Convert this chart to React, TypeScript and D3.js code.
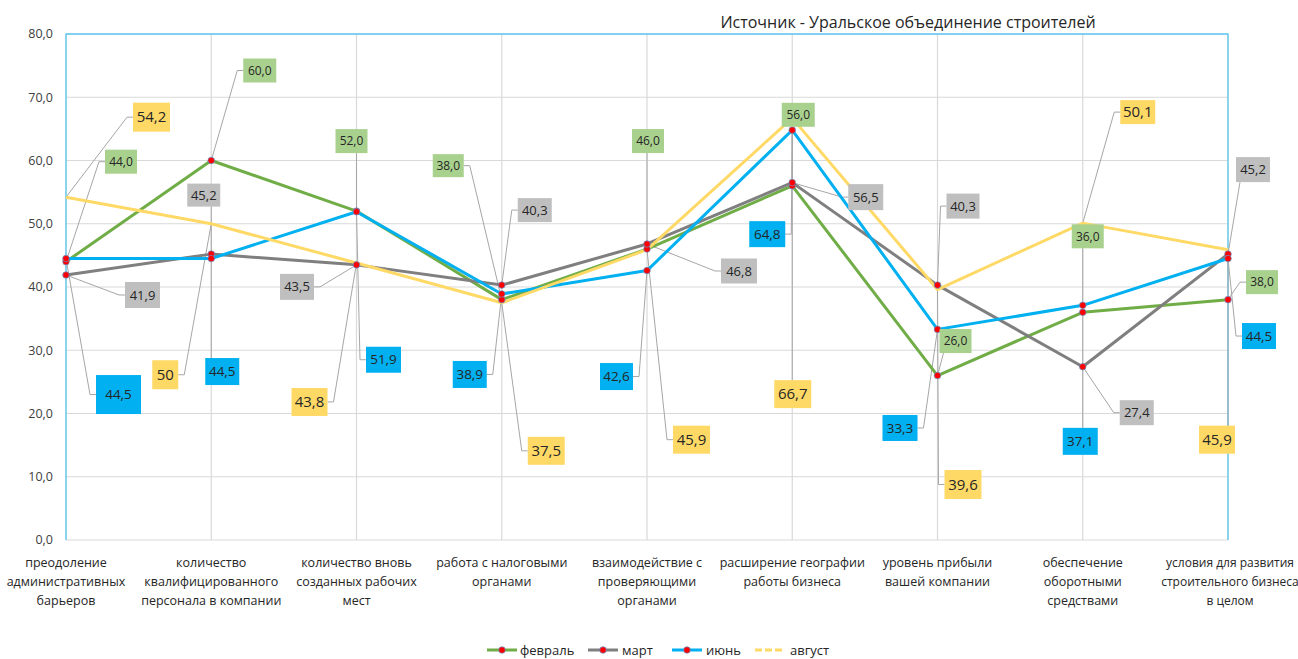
import React from "react";
import * as d3 from "d3";

const categories: string[][] = [
  ["преодоление", "административных", "барьеров"],
  ["количество", "квалифицированного", "персонала в компании"],
  ["количество вновь", "созданных рабочих", "мест"],
  ["работа с налоговыми", "органами"],
  ["взаимодействие с", "проверяющими", "органами"],
  ["расширение географии", "работы бизнеса"],
  ["уровень прибыли", "вашей компании"],
  ["обеспечение", "оборотными", "средствами"],
  ["условия для развития", "строительного бизнеса", "в целом"],
];

const february = [44.0, 60.0, 52.0, 38.0, 46.0, 56.0, 26.0, 36.0, 38.0];
const march = [41.9, 45.2, 43.5, 40.3, 46.8, 56.5, 40.3, 27.4, 45.2];
const june = [44.5, 44.5, 51.9, 38.9, 42.6, 64.8, 33.3, 37.1, 44.5];
const august = [54.2, 50.0, 43.8, 37.5, 45.9, 66.7, 39.6, 50.1, 45.9];

const seriesNames = ["февраль", "март", "июнь", "август"];
const yTicks = [0, 10, 20, 30, 40, 50, 60, 70, 80];
const title = "Источник - Уральское объединение строителей";
// labels shown without decimals: [seriesIndex, categoryIndex]
const plainLabels = [[3, 1]];

// ---- styling / layout (not data) ----
const W = 1298, H = 659;
const plot = { left: 66, right: 1228, top: 34, bottom: 540 };
const lineColors = ["#70AD47", "#7F7F7F", "#00B0F0", "#FFD966"];
const boxColors = ["#A9D18E", "#BFBFBF", "#00B0F0", "#FFD966"];
const labelFont = [12, 13, 13.5, 15];
const FONT = "'Open Sans', sans-serif";

// label layout per series per category: [dx, dy, w, h, attachSide]
type LL = [number, number, number, number, string];
const labelLayout: LL[][] = [
  [
    [55, -100, 32, 24, "l"], [48.5, -90, 33, 24, "l"], [-5, -70, 32, 24, "b"],
    [-53.5, -134, 31, 23, "r"], [1, -108, 32, 24, "b"], [6, -71, 33, 24, "b"],
    [18, -34.5, 32, 24, "b"], [5, -76, 32, 24, "b"], [34, -17.5, 32, 24, "l"],
  ],
  [
    [76.5, 20, 35, 26, "l"], [-7.5, -59, 33, 23, "b"], [-59.5, 22, 34, 26, "r"],
    [33, -75, 34, 24, "l"], [92, 27, 36, 25, "l"], [73.5, 14.5, 35, 26, "l"],
    [25.5, -79, 33, 25, "l"], [54, 46, 34, 25, "l"], [25, -84.5, 34, 25, "b"],
  ],
  [
    [52.5, 136, 45, 39, "l"], [11, 113, 34, 27, "t"], [27, 148, 35, 26, "l"],
    [-32, 80.5, 34, 27, "r"], [-30.5, 106, 33, 27, "r"], [-25, 104, 36, 26, "r"],
    [-37.5, 98.6, 35, 26, "r"], [-2.5, 136, 35, 27, "t"], [31, 77.5, 34, 26, "l"],
  ],
  [
    [85.5, -80, 37, 29, "l"], [-46, 151, 26, 29, "r"], [-47, 139, 36, 28, "r"],
    [44.5, 148, 37, 28, "l"], [44.5, 190, 37, 28, "l"], [0.5, 276, 37, 28, "t"],
    [25.5, 195, 37, 29, "l"], [55, -111, 35, 24, "l"], [-11, 190, 36, 28, "t"],
  ],
];

const ru = d3.formatLocale({ decimal: ",", thousands: " ", grouping: [3], currency: ["", ""] });
const fmt1 = ru.format(".1f");

export default function App() {
  const allSeries = [february, march, june, august];
  const x = d3.scalePoint<number>().domain(d3.range(categories.length)).range([plot.left, plot.right]);
  const y = d3.scaleLinear().domain([0, 80]).range([plot.bottom, plot.top]);
  const line = d3.line<number>().x((_, i) => x(i)!).y((d) => y(d));

  const isPlain = (s: number, i: number) => plainLabels.some(([a, b]) => a === s && b === i);

  const labels: React.ReactNode[] = [];
  const leaders: React.ReactNode[] = [];
  allSeries.forEach((vals, s) => {
    vals.forEach((v, i) => {
      const px = x(i)!, py = y(v);
      const [dx, dy, w, h, side] = labelLayout[s][i];
      const cx = px + dx, cy = py + dy;
      const x0 = cx - w / 2, x1 = cx + w / 2, y0 = cy - h / 2, y1 = cy + h / 2;
      let pts: [number, number][];
      if (side === "l") pts = [[px, py], [x0 - 6, cy], [x0, cy]];
      else if (side === "r") pts = [[px, py], [x1 + 6, cy], [x1, cy]];
      else if (side === "t") pts = [[px, py], [Math.max(x0 + 4, Math.min(x1 - 4, px)), y0]];
      else pts = [[px, py], [Math.max(x0 + 4, Math.min(x1 - 4, px)), y1]];
      leaders.push(
        <polyline key={`ld${s}-${i}`} points={pts.map((p) => p.join(",")).join(" ")} fill="none" stroke="#A6A6A6" strokeWidth={1} />
      );
      labels.push(
        <g key={`lb${s}-${i}`}>
          <rect x={x0} y={y0} width={w} height={h} fill={boxColors[s]} />
          <text x={cx} y={cy} dy="0.35em" textAnchor="middle" fontSize={labelFont[s]} fill="#262626" fontFamily={FONT}>
            {isPlain(s, i) ? String(v) : fmt1(v)}
          </text>
        </g>
      );
    });
  });

  const legendItems = [
    { x: 487, tx: 520 },
    { x: 588, tx: 622 },
    { x: 672, tx: 706 },
    { x: 755, tx: 790 },
  ];

  return (
    <svg width={W} height={H} style={{ position: "absolute", left: 0, top: 0, background: "#fff" }} fontFamily={FONT}>
      {/* horizontal grid */}
      {yTicks.map((t) => (
        <line key={`hg${t}`} x1={plot.left} x2={plot.right} y1={y(t)} y2={y(t)} stroke="#D9D9D9" strokeWidth={1.2} />
      ))}
      {/* vertical grid */}
      {categories.map((_, i) => (
        <line key={`vg${i}`} x1={x(i)} x2={x(i)} y1={plot.top} y2={plot.bottom} stroke="#D9D9D9" strokeWidth={1.2} />
      ))}
      {/* border left/top/right */}
      <polyline
        points={`${plot.left},${plot.bottom} ${plot.left},${plot.top} ${plot.right},${plot.top} ${plot.right},${plot.bottom}`}
        fill="none" stroke="#5BC8F0" strokeWidth={1.3}
      />
      {/* y tick labels */}
      {yTicks.map((t) => (
        <text key={`yt${t}`} x={53} y={y(t)} dy="0.35em" textAnchor="end" fontSize={12.5} fill="#404040">
          {fmt1(t)}
        </text>
      ))}
      {/* category labels */}
      {categories.map((lines, i) => (
        <text key={`cl${i}`} textAnchor="middle" fontSize={i === 8 ? 12 : 12.5} fill="#262626">
          {lines.map((ln, k) => (
            <tspan key={k} x={x(i)! + (i === 8 ? 2 : 0)} y={567 + k * 19}>{ln}</tspan>
          ))}
        </text>
      ))}
      {/* leaders */}
      {leaders}
      {/* lines */}
      {allSeries.map((vals, s) => (
        <path key={`ln${s}`} d={line(vals)!} fill="none" stroke={lineColors[s]} strokeWidth={3} strokeLinejoin="round" />
      ))}
      {/* markers */}
      {allSeries.slice(0, 3).map((vals, s) =>
        vals.map((v, i) => (
          <circle key={`m${s}-${i}`} cx={x(i)} cy={y(v)} r={3.3} fill="#FF0000" stroke="#5B9BD5" strokeWidth={0.7} />
        ))
      )}
      {/* labels */}
      {labels}
      {/* title */}
      <text x={908} y={28} textAnchor="middle" fontSize={16} fill="#262626">{title}</text>
      {/* legend */}
      {legendItems.map((it, s) => (
        <g key={`lg${s}`}>
          <line x1={it.x} x2={it.x + 30} y1={650} y2={650} stroke={lineColors[s]} strokeWidth={3}
            strokeDasharray={s === 3 ? "7,3" : undefined} />
          {s < 3 && <circle cx={it.x + 15} cy={650} r={3.3} fill="#FF0000" stroke="#5B9BD5" strokeWidth={0.7} />}
          <text x={it.tx} y={650} dy="0.35em" fontSize={13} fill="#262626">{seriesNames[s]}</text>
        </g>
      ))}
    </svg>
  );
}
